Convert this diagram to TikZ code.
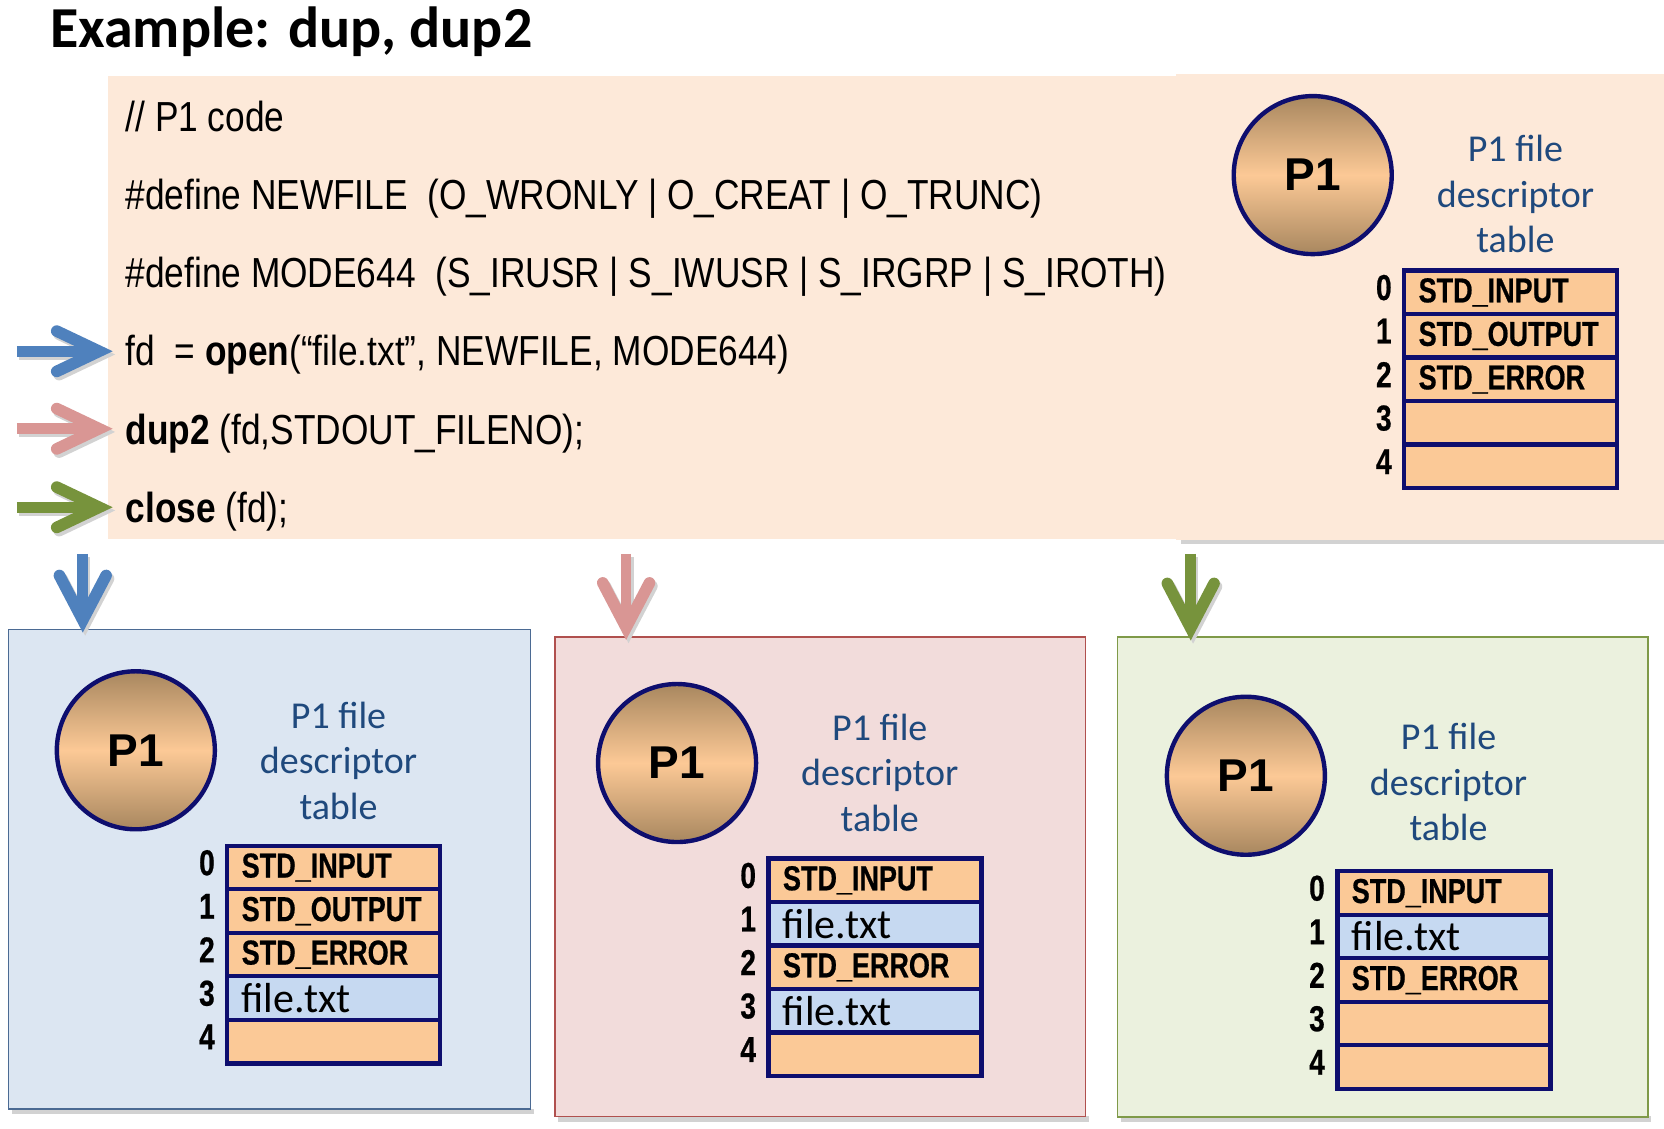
\documentclass[tikz,border=0pt]{standalone}
\usepackage{fontspec}
\setmainfont{Carlito}
\newfontfamily\codefont[FakeStretch=0.84]{Liberation Sans}
\newfontfamily\narrowbold[FakeStretch=0.78, FakeBold=0.6]{Liberation Sans Bold}
\newfontfamily\pfont{Liberation Sans}
\usetikzlibrary{calc}
\definecolor{codebg}{HTML}{FDE9D9}
\definecolor{cellpeach}{HTML}{FBC997}
\definecolor{cellblue}{HTML}{C6D9F1}
\definecolor{navy}{HTML}{0E0E6E}
\definecolor{txtblue}{HTML}{1F497D}
\definecolor{circbrown}{HTML}{A8875F}
\definecolor{circpeach}{HTML}{FCC996}
\definecolor{arrblue}{HTML}{4F81BD}
\definecolor{arrpink}{HTML}{D99694}
\definecolor{arrgreen}{HTML}{77933C}
\definecolor{boxblue}{HTML}{DCE6F2}
\definecolor{boxblueline}{HTML}{4B6A93}
\definecolor{boxpink}{HTML}{F2DCDB}
\definecolor{boxpinkline}{HTML}{B0504E}
\definecolor{boxgreen}{HTML}{EBF1DE}
\definecolor{boxgreenline}{HTML}{7F9A48}
\definecolor{shadowgray}{HTML}{D2D2D2}
\tikzset{
  proc/.style={circle, draw=navy, line width=2.2pt, minimum size=79pt, inner sep=0pt,
    top color=circbrown, bottom color=circbrown, middle color=circpeach,
    font=\pfont\bfseries\fontsize{23}{23}\selectfont},
  fdlabel/.style={align=center, text=txtblue, inner sep=0pt,
    font=\fontsize{19}{22.8}\selectfont},
  cell/.style={draw=navy, line width=2.2pt, minimum width=106.5pt, minimum height=21.8pt,
    text width=92pt, inner xsep=7.25pt, inner ysep=0pt, align=left},
  sc/.style={cell, fill=cellpeach, font=\narrowbold\fontsize{17.3}{17.3}\selectfont},
  fc/.style={cell, fill=cellblue, font=\fontsize{21}{21}\selectfont},
  ec/.style={cell, fill=cellpeach},
  idx/.style={inner sep=0pt, font=\narrowbold\fontsize{18}{18}\selectfont},
  codeline/.style={anchor=base west, inner sep=0pt, font=\codefont\fontsize{21}{21}\selectfont},
  panelbox/.style={line width=0.8pt, inner sep=0pt, minimum height=239.8pt},
  fatline/.style={line width=5.3pt},
  fathead/.style={line width=5.8pt, line cap=round, line join=miter},
}
\newcommand\fdhead[2]{%
  \node[proc] (#1p) at (0,0) {P1};
  \node[fdlabel] (#1lab) at (191,#2) {P1 file\\descriptor\\table};}
\newcommand\fdcell[4]{%
  \node[#3] (#1c#2) at (186.5,{110.5+41*#2}) {#4};
  \node[idx] (#1i#2) at (67,{106+41*#2}) {#2};}
\newcommand\harrow[3]{%
  \foreach \cc/\dx/\dy in {shadowgray/1.2pt/-1.6pt, #1/0pt/0pt}{%
    \begin{scope}[transform canvas={xshift=\dx, yshift=\dy}]
      \draw[fatline, \cc] (#2) -- ($(#3)+(-8,0)$);
      \draw[fathead, \cc] ($(#3)+(-40,-19)$) -- (#3) -- ($(#3)+(-40,19)$);
    \end{scope}}}
\newcommand\varrow[3]{%
  \foreach \cc/\dx/\dy in {shadowgray/1.2pt/-1.6pt, #1/0pt/0pt}{%
    \begin{scope}[transform canvas={xshift=\dx, yshift=\dy}]
      \draw[fatline, \cc] (#2) -- ($(#3)+(0,-8)$);
      \draw[fathead, \cc] ($(#3)+(-22,-42)$) -- (#3) -- ($(#3)+(22,-42)$);
    \end{scope}}}
\begin{document}
\begin{tikzpicture}[x=0.5306pt, y=-0.5306pt]
\useasboundingbox (0,0) rectangle (1568,1063);
\fill[white] (0,0) rectangle (1568,1063);

% title
\node[anchor=base west, inner sep=0pt, font=\bfseries\fontsize{29}{29}\selectfont] (title) at (47,45) {Example: dup, dup2};

% code area
\fill[shadowgray] (1113,508) rectangle (1568,513);
\fill[codebg] (1108,70) rectangle (1568,509);
\node[fill=codebg, inner sep=0pt, minimum width=535pt, minimum height=231.3pt] (code) at (606,290) {};

\node[codeline] (l0) at (118,124) {// P1 code};
\node[codeline] (l1) at (118,197.6) {\#define NEWFILE\ \ (O\_WRONLY | O\_CREAT | O\_TRUNC)};
\node[codeline] (l2) at (118,271.2) {\#define MODE644\ \ (S\_IRUSR | S\_IWUSR | S\_IRGRP | S\_IROTH)};
\node[codeline] (l3) at (118,344.8) {fd\ \ = \textbf{open}(“file.txt”, NEWFILE, MODE644)};
\node[codeline] (l4) at (118,418.4) {\textbf{dup2} (fd,STDOUT\_FILENO);};
\node[codeline] (l5) at (118,492) {\textbf{close} (fd);};

% top-right table
\begin{scope}[shift={(1237,165)}]
  \fdhead{t}{18}
  \fdcell{t}{0}{sc}{STD\_INPUT}
  \fdcell{t}{1}{sc}{STD\_OUTPUT}
  \fdcell{t}{2}{sc}{STD\_ERROR}
  \fdcell{t}{3}{ec}{}
  \fdcell{t}{4}{ec}{}
\end{scope}

% bottom panels
\fill[shadowgray] (11,1045) rectangle (503,1050);
\node[panelbox, fill=boxblue, draw=boxblueline, minimum width=261pt] (bbox) at (254,819) {};
\fill[shadowgray] (526,1052) rectangle (1026,1057);
\node[panelbox, fill=boxpink, draw=boxpinkline, minimum width=265.3pt] (pbox) at (773,826) {};
\fill[shadowgray] (1056,1052) rectangle (1556,1057);
\node[panelbox, fill=boxgreen, draw=boxgreenline, minimum width=265.3pt] (gbox) at (1303,826.5) {};

\begin{scope}[shift={(128,707)}]
  \fdhead{b}{10}
  \fdcell{b}{0}{sc}{STD\_INPUT}
  \fdcell{b}{1}{sc}{STD\_OUTPUT}
  \fdcell{b}{2}{sc}{STD\_ERROR}
  \fdcell{b}{3}{fc}{file.txt}
  \fdcell{b}{4}{ec}{}
\end{scope}

\begin{scope}[shift={(638,719)}]
  \fdhead{r}{9}
  \fdcell{r}{0}{sc}{STD\_INPUT}
  \fdcell{r}{1}{fc}{file.txt}
  \fdcell{r}{2}{sc}{STD\_ERROR}
  \fdcell{r}{3}{fc}{file.txt}
  \fdcell{r}{4}{ec}{}
\end{scope}

\begin{scope}[shift={(1174,731)}]
  \fdhead{g}{6}
  \fdcell{g}{0}{sc}{STD\_INPUT}
  \fdcell{g}{1}{fc}{file.txt}
  \fdcell{g}{2}{sc}{STD\_ERROR}
  \fdcell{g}{3}{ec}{}
  \fdcell{g}{4}{ec}{}
\end{scope}

% left arrows
\coordinate (la1) at (16,331);
\coordinate (la2) at (16,404);
\coordinate (la3) at (16,478);
\coordinate (lt1) at ($(la1 -| code.west)+(-8,0)$);
\coordinate (lt2) at ($(la2 -| code.west)+(-8,0)$);
\coordinate (lt3) at ($(la3 -| code.west)+(-8,0)$);
\harrow{arrblue}{la1}{lt1}
\harrow{arrpink}{la2}{lt2}
\harrow{arrgreen}{la3}{lt3}

% down arrows
\coordinate (da1) at (78,522);
\coordinate (da2) at (590,522);
\coordinate (da3) at (1122,522);
\coordinate (dt1) at ($(da1 |- bbox.north)+(0,-8)$);
\coordinate (dt2) at ($(da2 |- pbox.north)+(0,-8)$);
\coordinate (dt3) at ($(da3 |- gbox.north)+(0,-8)$);
\varrow{arrblue}{da1}{dt1}
\varrow{arrpink}{da2}{dt2}
\varrow{arrgreen}{da3}{dt3}
\end{tikzpicture}
\end{document}
